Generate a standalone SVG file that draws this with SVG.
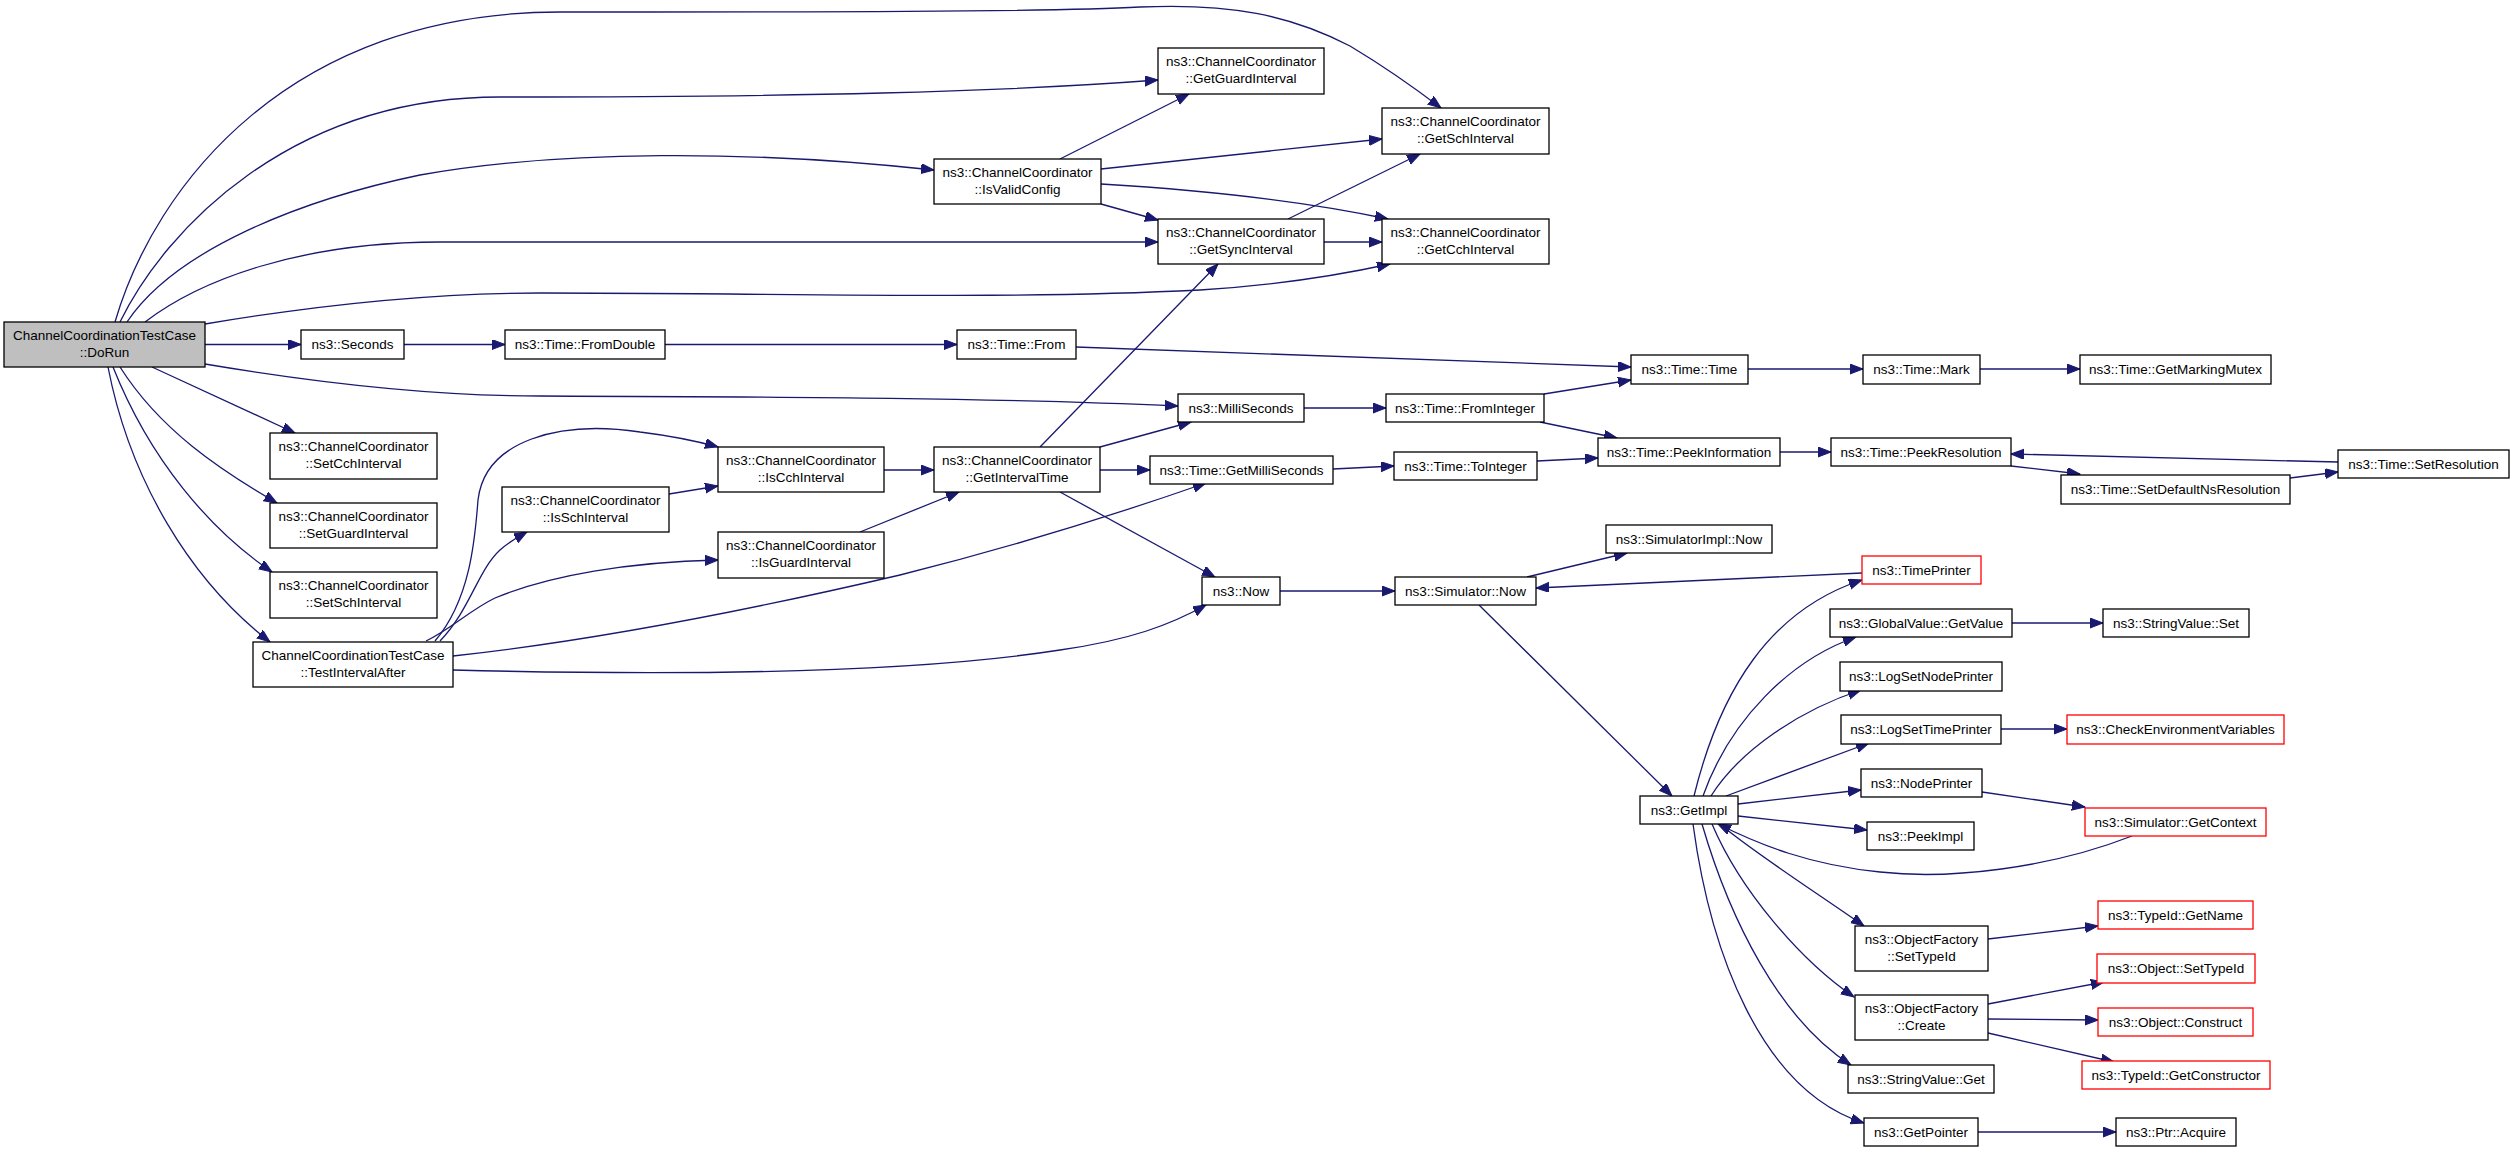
<svg xmlns="http://www.w3.org/2000/svg" width="2515" height="1152" viewBox="0 0 2515 1152">
<style>
.node rect{fill:#ffffff;stroke:#000000;stroke-width:1.3}
.root rect{fill:#bfbfbf}
.red rect{stroke:#ff0000}
text{font-family:"Liberation Sans",Arial,Helvetica,sans-serif;font-size:13.5px;text-anchor:middle;fill:#000000}
#edges path{fill:none;stroke:#191970;stroke-width:1.3;marker-end:url(#arr)}
</style>
<defs>
<marker id="arr" markerUnits="userSpaceOnUse" markerWidth="14" markerHeight="11" refX="13" refY="5" orient="auto">
<path d="M0,0 L13,5 L0,10 Z" fill="#191970" stroke="#191970" stroke-width="1"/>
</marker>
</defs>
<rect x="0" y="0" width="2515" height="1152" fill="#ffffff"/>
<g id="edges">
<path d="M115,322 C155,185 290,12 560,12 C800,12 1050,12 1140,7 C1230,3 1290,15 1350,46 C1390,70 1420,92 1441,108"/>
<path d="M120,322 C165,230 290,97 500,97 C800,97 1000,92 1158,80"/>
<path d="M127,322 C175,250 300,200 420,175 C560,150 750,150 934,170"/>
<path d="M145,322 C200,280 300,242 440,242 L1158,242"/>
<path d="M205,324 C300,308 420,293 540,293 C800,293 1000,300 1200,290 C1280,285 1340,275 1390,264"/>
<path d="M205,344.5 L301,344.5"/>
<path d="M205,364 C300,380 420,396 540,396 C800,397 1000,398 1178,406"/>
<path d="M152,367 L295,433"/>
<path d="M120,367 C160,430 220,470 277,503"/>
<path d="M113,367 C150,460 210,530 272,572"/>
<path d="M108,367 C130,480 190,580 270,642"/>
<path d="M1060,159 L1189,94"/>
<path d="M1101,169 L1382,139"/>
<path d="M1101,184 C1200,190 1300,200 1388,219"/>
<path d="M1101,204 L1158,220"/>
<path d="M1288,219 L1420,154"/>
<path d="M1324,242 L1382,242"/>
<path d="M1040,447 L1218,264"/>
<path d="M1100,447 L1191,422"/>
<path d="M1100,470 L1150,470"/>
<path d="M1060,492 L1215,577"/>
<path d="M884,470 L934,470"/>
<path d="M860,532 L959,492"/>
<path d="M669,494 L718,486"/>
<path d="M435,641 C470,600 475,540 478,500 C485,440 560,420 640,432 C680,437 700,442 718,447"/>
<path d="M440,641 C470,610 478,570 500,550 C510,541 518,537 527,532"/>
<path d="M426,641 C450,630 470,610 495,598 C550,575 630,562 718,560"/>
<path d="M453,656 C600,640 750,610 900,575 C1000,550 1100,520 1206,483"/>
<path d="M453,670 C650,675 900,675 1060,650 C1130,640 1170,625 1206,605"/>
<path d="M404,344.5 L505,344.5"/>
<path d="M665,344.5 L957,344.5"/>
<path d="M1076,347 L1631,367"/>
<path d="M1304,408 L1386,408"/>
<path d="M1544,394 L1631,380"/>
<path d="M1540,422 L1617,438"/>
<path d="M1333,469 L1394,466"/>
<path d="M1537,461 L1598,458"/>
<path d="M1280,591 L1395,591"/>
<path d="M1527,577 L1627,553"/>
<path d="M1862,573 L1536,588"/>
<path d="M1479,605 L1672,796"/>
<path d="M1748,369 L1863,369"/>
<path d="M1980,369 L2080,369"/>
<path d="M1780,452 L1831,452"/>
<path d="M2011,466 L2080,474"/>
<path d="M2290,478 L2338,472"/>
<path d="M2338,462 L2011,454"/>
<path d="M1694,796 C1720,690 1770,610 1862,580"/>
<path d="M1703,796 C1730,720 1790,660 1856,637"/>
<path d="M1711,796 C1740,750 1800,710 1861,690"/>
<path d="M1726,796 L1869,743"/>
<path d="M1738,804 L1861,790"/>
<path d="M1738,816 L1867,830"/>
<path d="M2132,836 C2050,868 1950,880 1880,872 C1810,865 1760,845 1718,824"/>
<path d="M1720,824 C1750,850 1820,895 1864,926"/>
<path d="M1712,824 C1740,890 1800,960 1854,997"/>
<path d="M1702,824 C1730,920 1780,1020 1851,1065"/>
<path d="M1693,824 C1710,950 1760,1090 1864,1123"/>
<path d="M1982,792 L2085,807"/>
<path d="M2012,623 L2103,623"/>
<path d="M2001,729 L2067,729"/>
<path d="M1988,939 L2098,926"/>
<path d="M1988,1004 L2104,982"/>
<path d="M1988,1019 L2098,1020"/>
<path d="M1988,1033 L2114,1062"/>
<path d="M1978,1132 L2116,1132"/>
</g>
<g id="n_dorun" class="node root"><rect x="4" y="322" width="201" height="45"/><text x="104.5" y="339.5">ChannelCoordinationTestCase</text><text x="104.5" y="356.5">::DoRun</text></g>
<g id="n_getguard" class="node"><rect x="1158" y="48" width="166" height="46"/><text x="1241" y="66">ns3::ChannelCoordinator</text><text x="1241" y="83">::GetGuardInterval</text></g>
<g id="n_getsch" class="node"><rect x="1382" y="108" width="167" height="46"/><text x="1465.5" y="126">ns3::ChannelCoordinator</text><text x="1465.5" y="143">::GetSchInterval</text></g>
<g id="n_isvalid" class="node"><rect x="934" y="159" width="167" height="45"/><text x="1017.5" y="176.5">ns3::ChannelCoordinator</text><text x="1017.5" y="193.5">::IsValidConfig</text></g>
<g id="n_getsync" class="node"><rect x="1158" y="219" width="166" height="45"/><text x="1241" y="236.5">ns3::ChannelCoordinator</text><text x="1241" y="253.5">::GetSyncInterval</text></g>
<g id="n_getcch" class="node"><rect x="1382" y="219" width="167" height="45"/><text x="1465.5" y="236.5">ns3::ChannelCoordinator</text><text x="1465.5" y="253.5">::GetCchInterval</text></g>
<g id="n_seconds" class="node"><rect x="301" y="330" width="103" height="29"/><text x="352.5" y="349">ns3::Seconds</text></g>
<g id="n_fromdouble" class="node"><rect x="505" y="330" width="160" height="29"/><text x="585" y="349">ns3::Time::FromDouble</text></g>
<g id="n_from" class="node"><rect x="957" y="330" width="119" height="29"/><text x="1016.5" y="349">ns3::Time::From</text></g>
<g id="n_time" class="node"><rect x="1631" y="355" width="117" height="29"/><text x="1689.5" y="374">ns3::Time::Time</text></g>
<g id="n_mark" class="node"><rect x="1863" y="355" width="117" height="29"/><text x="1921.5" y="374">ns3::Time::Mark</text></g>
<g id="n_mutex" class="node"><rect x="2080" y="355" width="191" height="29"/><text x="2175.5" y="374">ns3::Time::GetMarkingMutex</text></g>
<g id="n_milli" class="node"><rect x="1178" y="394" width="126" height="28"/><text x="1241" y="412.5">ns3::MilliSeconds</text></g>
<g id="n_fromint" class="node"><rect x="1386" y="394" width="158" height="28"/><text x="1465" y="412.5">ns3::Time::FromInteger</text></g>
<g id="n_setcch" class="node"><rect x="270" y="433" width="167" height="46"/><text x="353.5" y="451">ns3::ChannelCoordinator</text><text x="353.5" y="468">::SetCchInterval</text></g>
<g id="n_iscch" class="node"><rect x="718" y="447" width="166" height="45"/><text x="801" y="464.5">ns3::ChannelCoordinator</text><text x="801" y="481.5">::IsCchInterval</text></g>
<g id="n_getinterval" class="node"><rect x="934" y="447" width="166" height="45"/><text x="1017" y="464.5">ns3::ChannelCoordinator</text><text x="1017" y="481.5">::GetIntervalTime</text></g>
<g id="n_getmilli" class="node"><rect x="1150" y="456" width="183" height="28"/><text x="1241.5" y="474.5">ns3::Time::GetMilliSeconds</text></g>
<g id="n_toint" class="node"><rect x="1394" y="452" width="143" height="28"/><text x="1465.5" y="470.5">ns3::Time::ToInteger</text></g>
<g id="n_peekinfo" class="node"><rect x="1598" y="438" width="182" height="28"/><text x="1689" y="456.5">ns3::Time::PeekInformation</text></g>
<g id="n_peekres" class="node"><rect x="1831" y="438" width="180" height="28"/><text x="1921" y="456.5">ns3::Time::PeekResolution</text></g>
<g id="n_setdefault" class="node"><rect x="2061" y="475" width="229" height="29"/><text x="2175.5" y="494">ns3::Time::SetDefaultNsResolution</text></g>
<g id="n_setres" class="node"><rect x="2338" y="450" width="171" height="28"/><text x="2423.5" y="468.5">ns3::Time::SetResolution</text></g>
<g id="n_issch" class="node"><rect x="502" y="487" width="167" height="45"/><text x="585.5" y="504.5">ns3::ChannelCoordinator</text><text x="585.5" y="521.5">::IsSchInterval</text></g>
<g id="n_setguard" class="node"><rect x="270" y="503" width="167" height="45"/><text x="353.5" y="520.5">ns3::ChannelCoordinator</text><text x="353.5" y="537.5">::SetGuardInterval</text></g>
<g id="n_simimplnow" class="node"><rect x="1606" y="525" width="166" height="28"/><text x="1689" y="543.5">ns3::SimulatorImpl::Now</text></g>
<g id="n_isguard" class="node"><rect x="718" y="532" width="166" height="46"/><text x="801" y="550">ns3::ChannelCoordinator</text><text x="801" y="567">::IsGuardInterval</text></g>
<g id="n_timeprinter" class="node red"><rect x="1862" y="556" width="119" height="28"/><text x="1921.5" y="574.5">ns3::TimePrinter</text></g>
<g id="n_setsch" class="node"><rect x="270" y="572" width="167" height="46"/><text x="353.5" y="590">ns3::ChannelCoordinator</text><text x="353.5" y="607">::SetSchInterval</text></g>
<g id="n_now" class="node"><rect x="1202" y="577" width="78" height="28"/><text x="1241" y="595.5">ns3::Now</text></g>
<g id="n_simnow" class="node"><rect x="1395" y="577" width="141" height="28"/><text x="1465.5" y="595.5">ns3::Simulator::Now</text></g>
<g id="n_getvalue" class="node"><rect x="1830" y="609" width="182" height="28"/><text x="1921" y="627.5">ns3::GlobalValue::GetValue</text></g>
<g id="n_svset" class="node"><rect x="2103" y="609" width="146" height="28"/><text x="2176" y="627.5">ns3::StringValue::Set</text></g>
<g id="n_testafter" class="node"><rect x="253" y="642" width="200" height="45"/><text x="353" y="659.5">ChannelCoordinationTestCase</text><text x="353" y="676.5">::TestIntervalAfter</text></g>
<g id="n_lognode" class="node"><rect x="1840" y="662" width="162" height="29"/><text x="1921" y="681">ns3::LogSetNodePrinter</text></g>
<g id="n_logtime" class="node"><rect x="1841" y="715" width="160" height="29"/><text x="1921" y="734">ns3::LogSetTimePrinter</text></g>
<g id="n_checkenv" class="node red"><rect x="2067" y="715" width="217" height="29"/><text x="2175.5" y="734">ns3::CheckEnvironmentVariables</text></g>
<g id="n_nodeprinter" class="node"><rect x="1861" y="769" width="121" height="28"/><text x="1921.5" y="787.5">ns3::NodePrinter</text></g>
<g id="n_getimpl" class="node"><rect x="1640" y="796" width="98" height="28"/><text x="1689" y="814.5">ns3::GetImpl</text></g>
<g id="n_getcontext" class="node red"><rect x="2085" y="808" width="181" height="28"/><text x="2175.5" y="826.5">ns3::Simulator::GetContext</text></g>
<g id="n_peekimpl" class="node"><rect x="1867" y="822" width="107" height="28"/><text x="1920.5" y="840.5">ns3::PeekImpl</text></g>
<g id="n_getname" class="node red"><rect x="2098" y="901" width="155" height="28"/><text x="2175.5" y="919.5">ns3::TypeId::GetName</text></g>
<g id="n_ofsettypeid" class="node"><rect x="1855" y="926" width="133" height="45"/><text x="1921.5" y="943.5">ns3::ObjectFactory</text><text x="1921.5" y="960.5">::SetTypeId</text></g>
<g id="n_objsettypeid" class="node red"><rect x="2097" y="954" width="158" height="29"/><text x="2176" y="973">ns3::Object::SetTypeId</text></g>
<g id="n_ofcreate" class="node"><rect x="1855" y="995" width="133" height="45"/><text x="1921.5" y="1012.5">ns3::ObjectFactory</text><text x="1921.5" y="1029.5">::Create</text></g>
<g id="n_construct" class="node red"><rect x="2098" y="1008" width="155" height="28"/><text x="2175.5" y="1026.5">ns3::Object::Construct</text></g>
<g id="n_getconstructor" class="node red"><rect x="2082" y="1061" width="188" height="28"/><text x="2176" y="1079.5">ns3::TypeId::GetConstructor</text></g>
<g id="n_svget" class="node"><rect x="1848" y="1065" width="146" height="28"/><text x="1921" y="1083.5">ns3::StringValue::Get</text></g>
<g id="n_getpointer" class="node"><rect x="1864" y="1118" width="114" height="28"/><text x="1921" y="1136.5">ns3::GetPointer</text></g>
<g id="n_acquire" class="node"><rect x="2116" y="1118" width="120" height="28"/><text x="2176" y="1136.5">ns3::Ptr::Acquire</text></g>
</svg>
